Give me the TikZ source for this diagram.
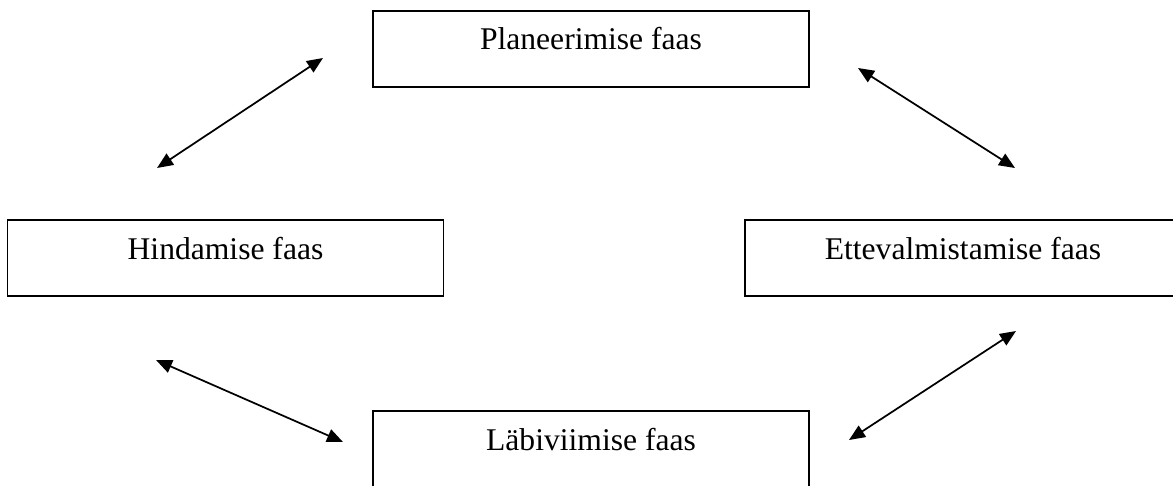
\documentclass[tikz,border=0pt]{standalone}
\usepackage{fontspec}
\setmainfont{Liberation Serif}
\usetikzlibrary{arrows.meta}
\tikzset{
  phase/.style={draw=black, line width=1.2pt, fill=white, inner sep=0pt,
    minimum width=327pt, text height=29.25pt, text depth=27.75pt,
    font=\fontsize{23.7pt}{28pt}\selectfont},
  link/.style={line width=1.3pt, {Triangle[length=12pt,width=10pt]}-{Triangle[length=12pt,width=10pt]}}
}
\begin{document}
\begin{tikzpicture}[x=0.75pt,y=-0.75pt]
\useasboundingbox (0,0) rectangle (1173,485);
\node[phase] (plan) at (591,49) {Planeerimise faas};
\node[phase] (hind) at (225.5,258) {Hindamise faas};
\node[phase] (ette) at (963,258) {Ettevalmistamise faas};
\node[phase] (labi) at (591,449) {Läbiviimise faas};
\coordinate (a1) at (157,168);
\coordinate (b1) at (323,58);
\coordinate (a2) at (858,68);
\coordinate (b2) at (1015,168);
\coordinate (a3) at (156,360);
\coordinate (b3) at (343,442);
\coordinate (a4) at (849,440);
\coordinate (b4) at (1016,331);
\draw[link] (a1) -- (b1);
\draw[link] (a2) -- (b2);
\draw[link] (a3) -- (b3);
\draw[link] (a4) -- (b4);
\end{tikzpicture}
\end{document}
